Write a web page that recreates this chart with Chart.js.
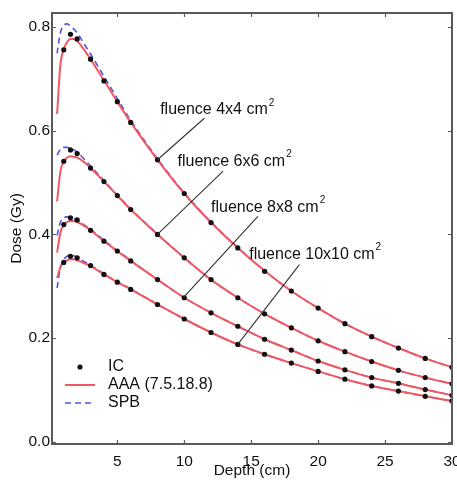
<!DOCTYPE html>
<html>
<head>
<meta charset="utf-8">
<script src="https://cdn.jsdelivr.net/npm/chart.js@4.4.0/dist/chart.umd.min.js"></script>
<style>
  html, body { margin: 0; padding: 0; background: #fff; }
  #chart { display: block; }
</style>
</head>
<body>
<canvas id="chart" width="457" height="485"></canvas>
<script>
// ionisation chamber measurements
const icDepth = [1, 1.5, 2, 3, 4, 5, 6, 8, 10, 12, 14, 16, 18, 20, 22, 24, 26, 28, 30];
const ic4x4 = [0.756, 0.786, 0.777, 0.738, 0.696, 0.656, 0.616, 0.544, 0.479, 0.423, 0.374, 0.329, 0.291, 0.258, 0.228, 0.203, 0.181, 0.161, 0.144];
const ic6x6 = [0.541, 0.563, 0.556, 0.528, 0.502, 0.475, 0.448, 0.400, 0.355, 0.313, 0.278, 0.247, 0.220, 0.195, 0.174, 0.155, 0.138, 0.124, 0.112];
const ic8x8 = [0.419, 0.432, 0.428, 0.408, 0.387, 0.368, 0.349, 0.313, 0.278, 0.249, 0.223, 0.198, 0.177, 0.156, 0.139, 0.124, 0.113, 0.101, 0.090];
const ic10x10 = [0.346, 0.358, 0.355, 0.340, 0.323, 0.308, 0.294, 0.265, 0.237, 0.211, 0.188, 0.169, 0.152, 0.136, 0.121, 0.108, 0.098, 0.088, 0.079];

// calculated curves (AAA 7.5.18.8 and SPB)
const calcDepth = [0.5, 0.75, 1, 1.25, 1.5, 1.75, 2, 2.5, 3, 4, 5, 6, 8, 10, 12, 14, 16, 18, 20, 22, 24, 26, 28, 30];
const aaa4x4 = [0.632, 0.728, 0.757, 0.771, 0.777, 0.777, 0.773, 0.757, 0.738, 0.697, 0.656, 0.616, 0.544, 0.479, 0.423, 0.374, 0.330, 0.291, 0.258, 0.228, 0.203, 0.181, 0.161, 0.144];
const spb4x4 = [0.749, 0.789, 0.803, 0.806, 0.802, 0.796, 0.789, 0.768, 0.748, 0.705, 0.662, 0.620, 0.546, 0.480, 0.424, 0.375, 0.330, 0.291, 0.258, 0.228, 0.203, 0.181, 0.161, 0.144];
const aaa6x6 = [0.464, 0.522, 0.541, 0.548, 0.551, 0.550, 0.548, 0.540, 0.528, 0.502, 0.475, 0.448, 0.400, 0.355, 0.313, 0.278, 0.247, 0.220, 0.195, 0.174, 0.155, 0.138, 0.124, 0.112];
const spb6x6 = [0.553, 0.564, 0.568, 0.568, 0.566, 0.563, 0.559, 0.546, 0.532, 0.504, 0.476, 0.449, 0.401, 0.355, 0.313, 0.278, 0.247, 0.220, 0.195, 0.174, 0.155, 0.138, 0.124, 0.112];
const aaa8x8 = [0.365, 0.404, 0.418, 0.424, 0.426, 0.426, 0.424, 0.417, 0.408, 0.387, 0.368, 0.349, 0.313, 0.278, 0.249, 0.223, 0.198, 0.177, 0.156, 0.139, 0.124, 0.113, 0.101, 0.090];
const spb8x8 = [0.398, 0.424, 0.432, 0.434, 0.433, 0.431, 0.428, 0.419, 0.410, 0.389, 0.369, 0.350, 0.313, 0.278, 0.249, 0.223, 0.198, 0.177, 0.156, 0.139, 0.124, 0.113, 0.101, 0.090];
const aaa10x10 = [0.316, 0.337, 0.346, 0.350, 0.352, 0.352, 0.350, 0.345, 0.339, 0.323, 0.308, 0.294, 0.265, 0.237, 0.211, 0.188, 0.169, 0.152, 0.136, 0.121, 0.108, 0.098, 0.088, 0.079];
const spb10x10 = [0.297, 0.336, 0.352, 0.358, 0.360, 0.359, 0.356, 0.348, 0.341, 0.324, 0.309, 0.295, 0.265, 0.237, 0.211, 0.188, 0.169, 0.152, 0.136, 0.121, 0.108, 0.098, 0.088, 0.079];

const xTicks = [5, 10, 15, 20, 25, 30];
const yTicks = [0, 0.2, 0.4, 0.6, 0.8];

// field size labels: text anchor (depth, dose) and the curve point the pointer line goes to
const fieldLabels = ['fluence 4x4 cm', 'fluence 6x6 cm', 'fluence 8x8 cm', 'fluence 10x10 cm'];
const labelAt = [[8.2, 0.640], [9.5, 0.541], [12.0, 0.452], [14.85, 0.362]];
const lineFrom = [[11.5, 0.624], [12.9, 0.522], [15.5, 0.435], [18.6, 0.342]];
const lineTo = [[8, 0.544], [8, 0.400], [10, 0.280], [14, 0.188]];

const RED = 'rgb(242, 88, 96)';
const BLUE = 'rgb(84, 84, 226)';
const FONT = 'Liberation Sans, Arial, sans-serif';

const toPts = (xs, ys) => xs.map((x, i) => ({ x: x, y: ys[i] }));

const icSets = [ic4x4, ic6x6, ic8x8, ic10x10];
const aaaSets = [aaa4x4, aaa6x6, aaa8x8, aaa10x10];
const spbSets = [spb4x4, spb6x6, spb8x8, spb10x10];

const datasets = [];
icSets.forEach((d) => {
  datasets.push({
    label: 'IC', data: toPts(icDepth, d), showLine: false,
    pointRadius: 2.6, pointBackgroundColor: '#111', pointBorderWidth: 0, order: 0,
  });
});
aaaSets.forEach((d) => {
  datasets.push({
    label: 'AAA (7.5.18.8)', data: toPts(calcDepth, d), showLine: true,
    borderColor: RED, borderWidth: 2, pointRadius: 0, cubicInterpolationMode: 'monotone', order: 1,
  });
});
spbSets.forEach((d) => {
  datasets.push({
    label: 'SPB', data: toPts(calcDepth, d), showLine: true,
    borderColor: BLUE, borderWidth: 1.6, borderDash: [6, 4], pointRadius: 0, cubicInterpolationMode: 'monotone', order: 2,
  });
});

const decorations = {
  id: 'decorations',
  afterDraw(chart) {
    const { ctx, chartArea: a, scales: { x, y } } = chart;
    ctx.save();

    // box with inward ticks
    ctx.strokeStyle = '#5a5a5a';
    ctx.lineWidth = 2;
    ctx.strokeRect(a.left, a.top, a.right - a.left, a.bottom - a.top);
    ctx.lineWidth = 1.2;
    ctx.beginPath();
    xTicks.forEach((v) => {
      const px = Math.round(x.getPixelForValue(v)) + 0.5;
      ctx.moveTo(px, a.bottom); ctx.lineTo(px, a.bottom - 4);
      ctx.moveTo(px, a.top); ctx.lineTo(px, a.top + 4);
    });
    yTicks.forEach((v) => {
      const py = Math.round(y.getPixelForValue(v)) + 0.5;
      ctx.moveTo(a.left, py); ctx.lineTo(a.left + 4, py);
      ctx.moveTo(a.right, py); ctx.lineTo(a.right - 4, py);
    });
    ctx.stroke();

    // pointer lines and field labels
    ctx.strokeStyle = '#333';
    ctx.lineWidth = 1.1;
    ctx.fillStyle = '#111';
    ctx.textBaseline = 'middle';
    fieldLabels.forEach((txt, i) => {
      ctx.beginPath();
      ctx.moveTo(x.getPixelForValue(lineFrom[i][0]), y.getPixelForValue(lineFrom[i][1]));
      ctx.lineTo(x.getPixelForValue(lineTo[i][0]), y.getPixelForValue(lineTo[i][1]));
      ctx.stroke();
      const tx = x.getPixelForValue(labelAt[i][0]);
      const ty = y.getPixelForValue(labelAt[i][1]);
      ctx.font = '16px ' + FONT;
      ctx.fillText(txt, tx, ty);
      const w = ctx.measureText(txt).width;
      ctx.font = '10px ' + FONT;
      ctx.fillText('2', tx + w + 1, ty - 7);
    });

    // legend in the lower left corner
    const lx = a.left + 13, tx = a.left + 56;
    const rows = [a.bottom - 77, a.bottom - 59, a.bottom - 41];
    ctx.font = '16px ' + FONT;
    ctx.fillStyle = '#111';
    ctx.beginPath();
    ctx.arc(lx + 15, rows[0], 2.6, 0, Math.PI * 2);
    ctx.fill();
    ctx.fillText('IC', tx, rows[0]);
    ctx.lineWidth = 2;
    ctx.strokeStyle = RED;
    ctx.beginPath(); ctx.moveTo(lx, rows[1]); ctx.lineTo(lx + 30, rows[1]); ctx.stroke();
    ctx.fillText('AAA (7.5.18.8)', tx, rows[1]);
    ctx.strokeStyle = BLUE;
    ctx.lineWidth = 1.6;
    ctx.setLineDash([6, 4]);
    ctx.beginPath(); ctx.moveTo(lx, rows[2]); ctx.lineTo(lx + 30, rows[2]); ctx.stroke();
    ctx.setLineDash([]);
    ctx.fillText('SPB', tx, rows[2]);

    ctx.restore();
  },
};

new Chart(document.getElementById('chart'), {
  type: 'scatter',
  data: { datasets: datasets },
  options: {
    responsive: false,
    animation: false,
    layout: { padding: { top: 13, right: 5, left: 0, bottom: 0 } },
    plugins: { legend: { display: false }, tooltip: { enabled: false } },
    scales: {
      x: {
        type: 'linear', min: 0.12, max: 30,
        afterBuildTicks: (s) => { s.ticks = xTicks.map((v) => ({ value: v })); },
        afterFit: (s) => { s.height = 41; s.paddingLeft = 0; s.paddingRight = 0; },
        grid: { display: false, drawTicks: false },
        border: { display: false },
        ticks: { padding: 8, color: '#111', font: { family: FONT, size: 15.5 }, callback: (v) => String(v) },
        title: { display: true, text: 'Depth (cm)', color: '#111', font: { family: FONT, size: 15.5 }, padding: { top: 0, bottom: 5 } },
      },
      y: {
        min: -0.004, max: 0.827,
        afterBuildTicks: (s) => { s.ticks = yTicks.map((v) => ({ value: v })); },
        afterFit: (s) => { s.width = 52; s.paddingTop = 0; s.paddingBottom = 0; },
        grid: { display: false, drawTicks: false },
        border: { display: false },
        ticks: { padding: 2, color: '#111', font: { family: FONT, size: 15.5 }, callback: (v) => v.toFixed(1) },
        title: { display: true, text: 'Dose (Gy)', color: '#111', font: { family: FONT, size: 15.5 }, padding: { top: 7, bottom: 0 } },
      },
    },
  },
  plugins: [decorations],
});
</script>
</body>
</html>
